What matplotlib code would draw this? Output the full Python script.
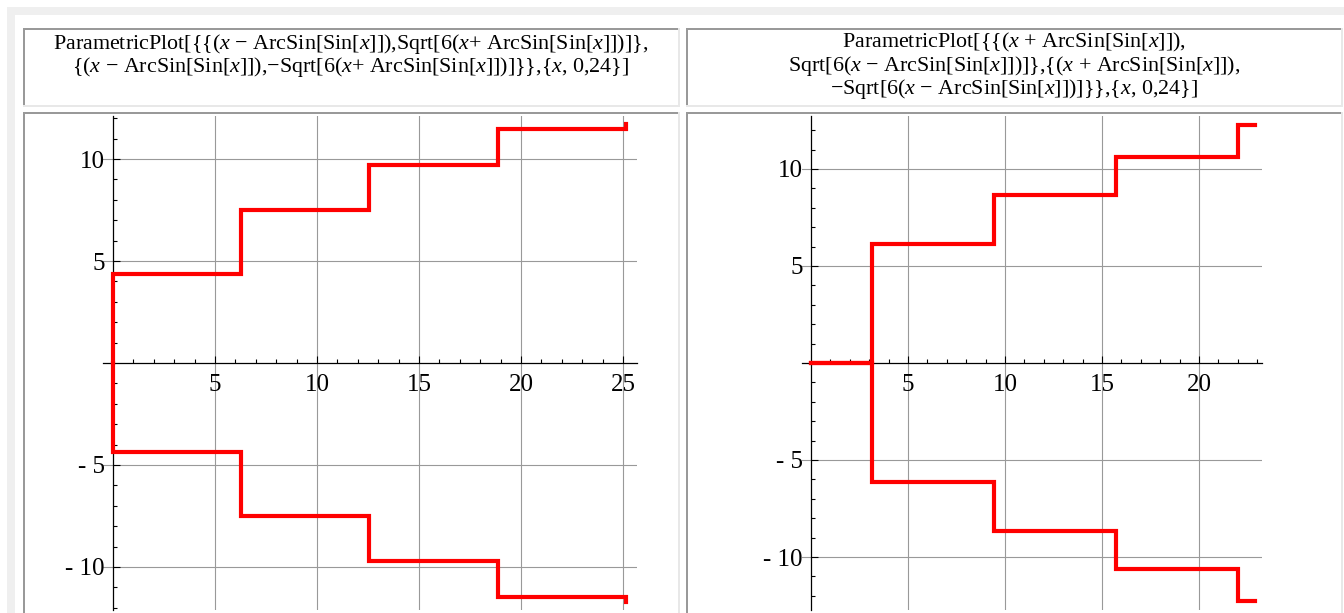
import matplotlib
matplotlib.use('Agg')
import matplotlib.pyplot as plt
from matplotlib.patches import Rectangle

# step vertices
left_x = [0, 0, 6.28, 6.28, 12.57, 12.57, 18.85, 18.85, 25.13, 25.13]
left_upper = [0, 4.34, 4.34, 7.52, 7.52, 9.71, 9.71, 11.49, 11.49, 11.71]
left_lower = [0, -4.34, -4.34, -7.52, -7.52, -9.71, -9.71, -11.49, -11.49, -11.71]

right_x = [0, 3.14, 3.14, 9.42, 9.42, 15.71, 15.71, 21.99, 21.99, 22.87]
right_upper = [0, 0, 6.14, 6.14, 8.68, 8.68, 10.63, 10.63, 12.28, 12.28]
right_lower = [0, 0, -6.14, -6.14, -8.68, -8.68, -10.63, -10.63, -12.28, -12.28]

left_xticks = [5, 10, 15, 20, 25]
right_xticks = [5, 10, 15, 20]
yticks = [-10, -5, 5, 10]
ytick_labels = ['- 10', '- 5', '5', '10']

left_title = [
    r'ParametricPlot[{{($x$ − ArcSin[Sin[$x$]]),Sqrt[6($x$+ ArcSin[Sin[$x$]])]},',
    r'{($x$ − ArcSin[Sin[$x$]]),−Sqrt[6($x$+ ArcSin[Sin[$x$]])]}},{$x$, 0,24}]',
]
right_title = [
    r'ParametricPlot[{{($x$ + ArcSin[Sin[$x$]]),',
    r'Sqrt[6($x$ − ArcSin[Sin[$x$]])]},{($x$ + ArcSin[Sin[$x$]]),',
    r'−Sqrt[6($x$ − ArcSin[Sin[$x$]])]}},{$x$, 0,24}]',
]

plt.rcParams['font.family'] = ['Liberation Serif', 'DejaVu Serif']
plt.rcParams['mathtext.fontset'] = 'custom'
plt.rcParams['mathtext.rm'] = 'Liberation Serif'
plt.rcParams['mathtext.it'] = 'Liberation Serif:italic'

W, H = 1344, 613
fig = plt.figure(figsize=(W / 100, H / 100), dpi=100)
fig.patch.set_facecolor('white')


def box(x0, y0, x1, y1, color):
    # pixel box, y measured from the top
    fig.add_artist(Rectangle((x0 / W, 1 - y1 / H), (x1 - x0) / W, (y1 - y0) / H,
                             transform=fig.transFigure, facecolor=color,
                             edgecolor='none', zorder=0))


def cell(x0, y0, x1, y1):
    box(x0, y0, x1, y1, 'white')
    box(x0, y0, x1, y0 + 2, '#999999')
    box(x0, y0, x0 + 2, y1, '#999999')
    box(x1 - 2, y0, x1, y1, '#e8e8e8')
    box(x0, y1 - 2, x1, y1, '#e8e8e8')


# grid background
box(7, 7, W, H, '#efefef')
box(15, 15, W, H, 'white')
cell(23, 28, 680, 107)
cell(686, 28, 1343, 107)
cell(23, 112, 680, H + 5)
cell(686, 112, 1343, H + 5)

for i, line in enumerate(left_title):
    fig.text(351 / W, 1 - (44 + 23 * i) / H, line, ha='center', va='center',
             fontsize=15.8)
for i, line in enumerate(right_title):
    fig.text(1014 / W, 1 - (42 + 23.5 * i) / H, line, ha='center', va='center',
             fontsize=15.8)


def panel(ox, oy, scale, xlim, ylim, xs, ups, lows, xticks):
    left = ox + xlim[0] * scale
    right = ox + xlim[1] * scale
    top = oy - ylim[1] * scale
    bottom = oy - ylim[0] * scale
    ax = fig.add_axes([left / W, 1 - bottom / H, (right - left) / W, (bottom - top) / H])
    ax.set_xlim(*xlim)
    ax.set_ylim(*ylim)
    ax.patch.set_visible(False)
    for s in ['top', 'right']:
        ax.spines[s].set_visible(False)
    for s in ['left', 'bottom']:
        ax.spines[s].set_position(('data', 0))
        ax.spines[s].set_linewidth(0.9)
    ax.set_xticks(xticks)
    ax.set_xticklabels([str(t) for t in xticks])
    ax.set_yticks(yticks)
    ax.set_yticklabels(ytick_labels)
    ax.set_xticks([v for v in range(1, int(xlim[1]) + 1) if v % 5], minor=True)
    ax.set_yticks([v for v in range(int(ylim[0]), int(ylim[1]) + 1) if v % 5], minor=True)
    ax.tick_params(which='major', direction='in', length=5, width=0.8,
                   labelsize=18, pad=6)
    ax.tick_params(axis='x', which='major', pad=8)
    ax.tick_params(which='minor', direction='in', length=3, width=0.8)
    ax.grid(True, which='major', color='#999999', linewidth=0.8)
    ax.set_axisbelow(True)
    ax.plot(xs, ups, color='red', lw=3, zorder=3, solid_joinstyle='miter')
    ax.plot(xs, lows, color='red', lw=3, zorder=3, solid_joinstyle='miter')
    return ax


panel(113, 363, 20.4, (-0.5, 25.7), (-12.1, 12.1), left_x, left_upper, left_lower, left_xticks)
panel(811, 363, 19.4, (-0.45, 23.25), (-12.75, 12.75), right_x, right_upper, right_lower, right_xticks)

fig.savefig('out.png', dpi=100)
